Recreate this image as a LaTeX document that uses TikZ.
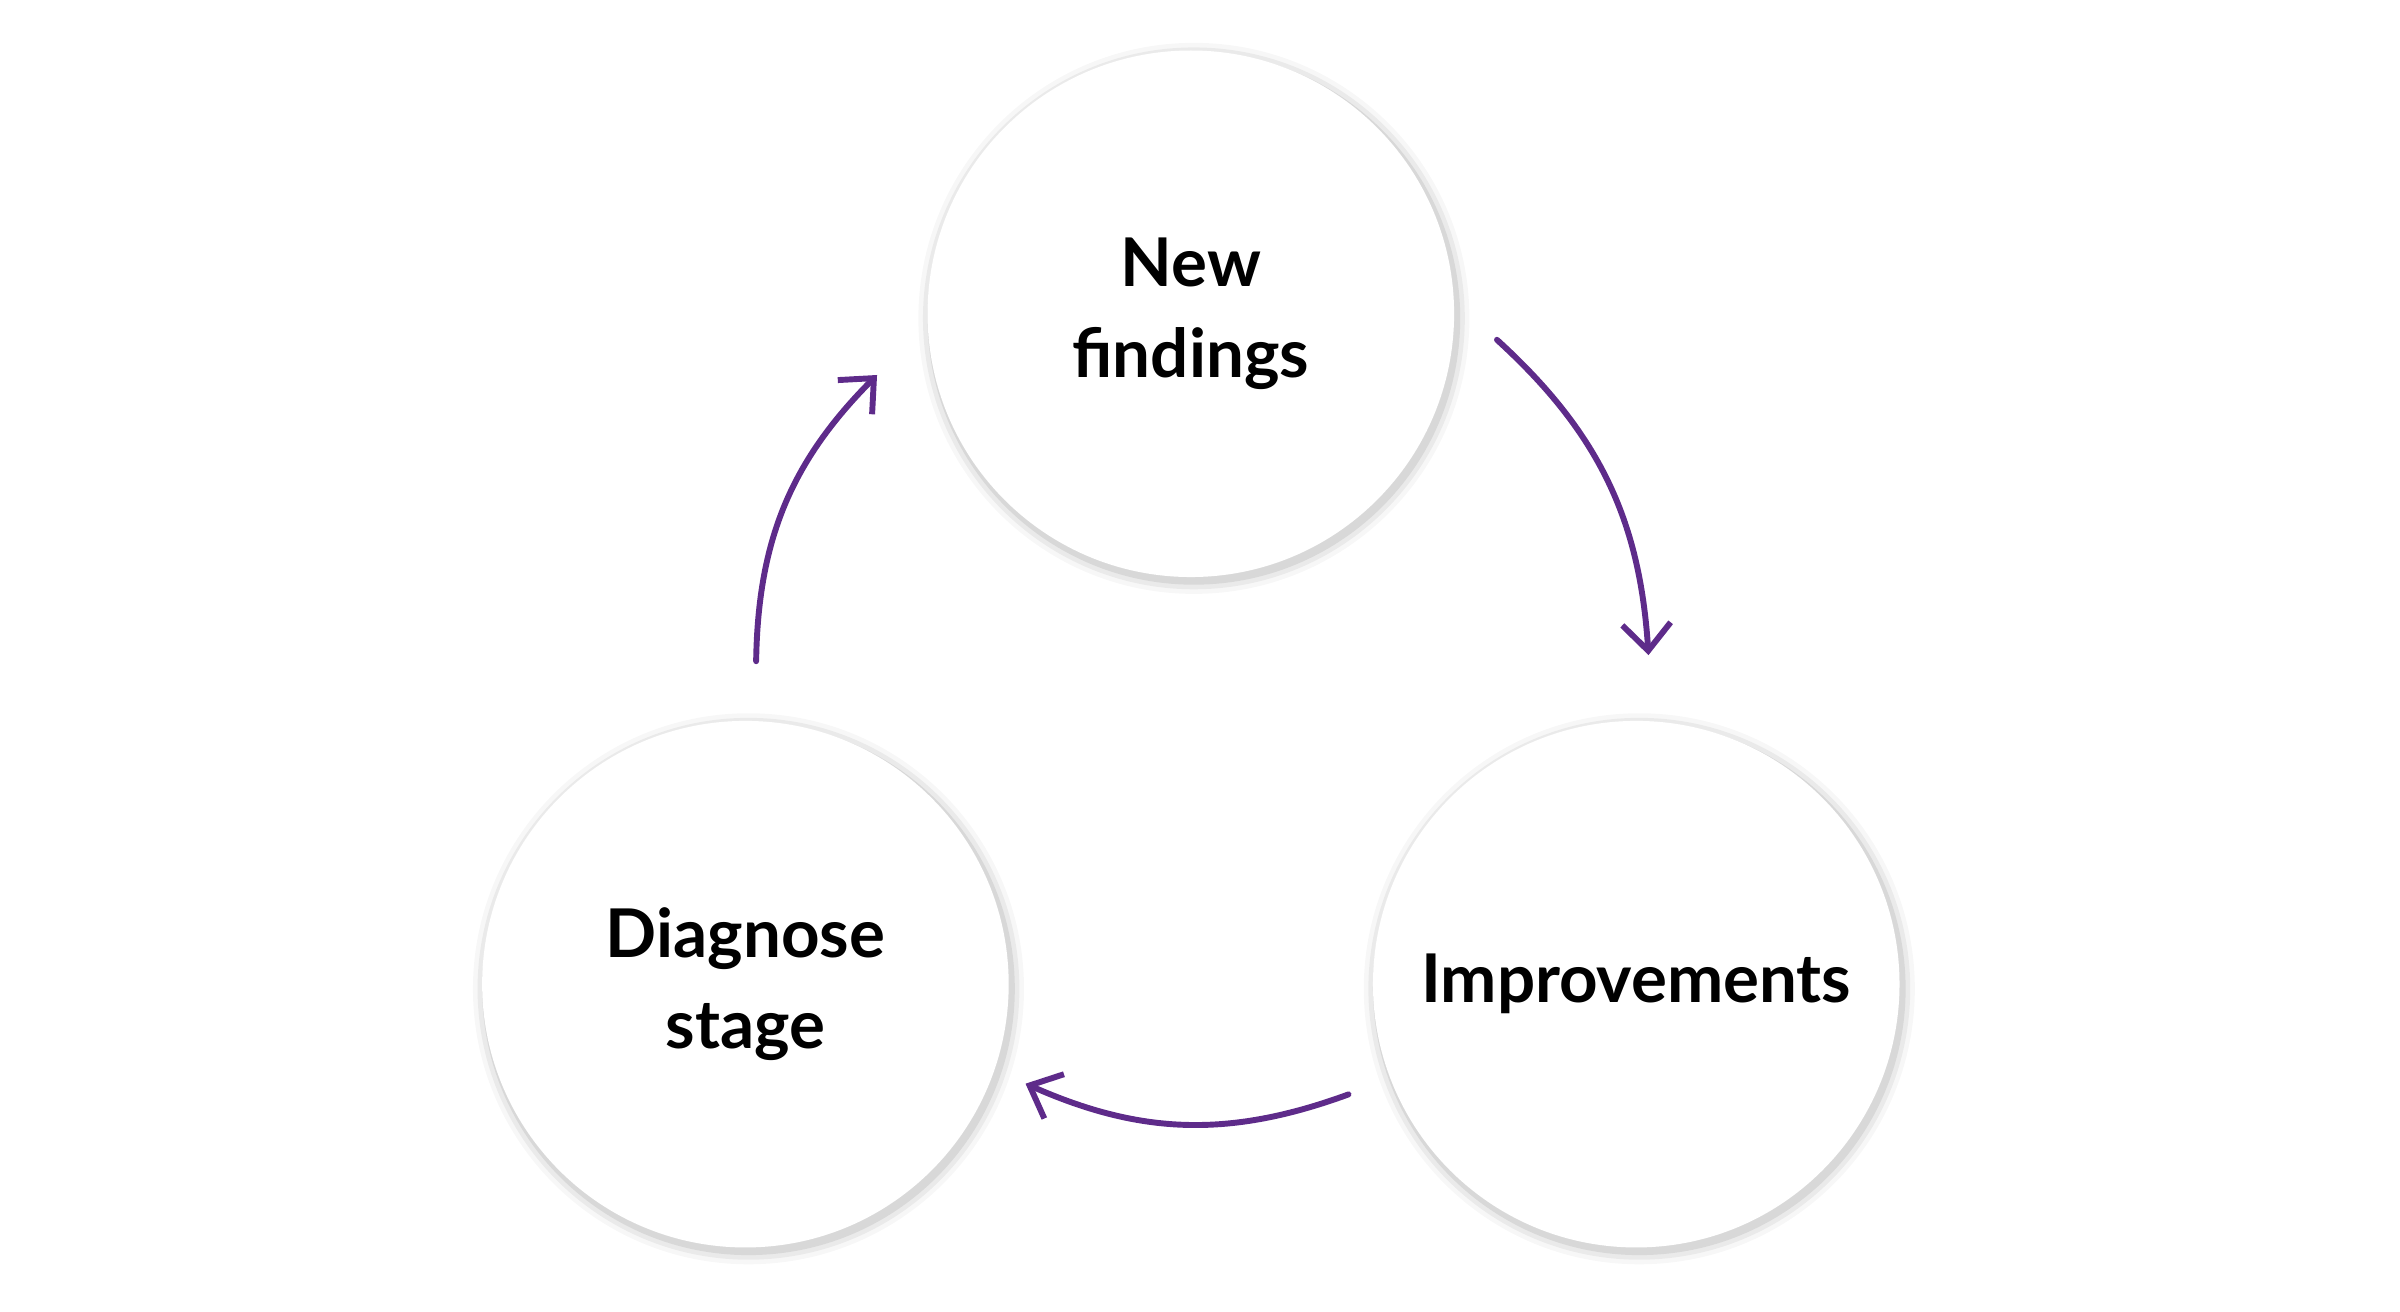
\documentclass[tikz,border=0pt]{standalone}
\usepackage{fontspec}
\setmainfont{Lato}
\usetikzlibrary{arrows.meta}
\definecolor{loopviolet}{HTML}{5E2B8A}
\tikzset{
  stage/.style={circle, fill=white, minimum size=3.44cm, inner sep=0pt,
    align=center, font=\fontsize{12.5}{17}\selectfont\bfseries},
  loop/.style={draw=loopviolet, line width=1.1pt, line cap=round,
    -{Straight Barb[length=5pt,width=9pt,line width=1.1pt]}}
}
\begin{document}
\begin{tikzpicture}
  \useasboundingbox (0,0) rectangle (15.68,8.57);

  % soft shadows
  \foreach \cx/\cy in {7.78/6.52, 4.87/2.14, 10.69/2.14}{
    \foreach \r/\o in {1.80/0.03, 1.77/0.05, 1.74/0.08}
      \fill[black, opacity=\o] (\cx+0.02,\cy-0.03) circle (\r);
  }

  \node[stage] (find) at (7.78,6.52) {New\\findings};
  \node[stage] (diag) at (4.87,2.14) {Diagnose\\stage};
  \node[stage] (impr) at (10.69,2.14) {Improvements};

  \coordinate (a1) at (9.78,6.35);
  \coordinate (b1) at (10.77,4.29);
  \coordinate (a2) at (8.81,1.42);
  \coordinate (b2) at (6.70,1.49);
  \coordinate (a3) at (4.94,4.25);
  \coordinate (b3) at (5.73,6.12);

  \draw[loop] (a1) to[bend left=22] (b1);
  \draw[loop] (a2) to[bend left=22] (b2);
  \draw[loop] (a3) to[bend left=22] (b3);
\end{tikzpicture}
\end{document}
